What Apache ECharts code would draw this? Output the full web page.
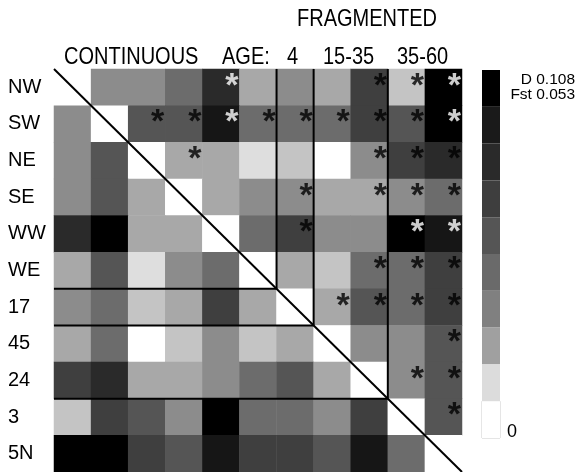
<!DOCTYPE html>
<html>
<head>
<meta charset="utf-8">
<script src="https://cdn.jsdelivr.net/npm/echarts@6/dist/echarts.min.js"></script>
<style>
html, body { margin: 0; padding: 0; background: #fff; }
#chart { width: 577px; height: 472px; }
</style>
</head>
<body>
<div id="chart"></div>
<script>
// populations, top to bottom and left to right
const pops = ["NW", "SW", "NE", "SE", "WW", "WE", "17", "45", "24", "3", "5N"]

// shade level of each cell, 0 = white ... 10 = black (one row per population)
const shadeRows = [
  [0, 4, 4, 5, 8, 3, 4, 3, 7, 2, 10],
  [4, 0, 6, 6, 9, 5, 5, 5, 7, 6, 10],
  [4, 6, 0, 3, 3, 1, 2, 0, 4, 7, 8],
  [4, 6, 3, 0, 3, 4, 4, 3, 3, 4, 5],
  [8, 10, 3, 3, 0, 5, 7, 4, 4, 10, 9],
  [3, 6, 1, 4, 5, 0, 3, 2, 5, 5, 7],
  [4, 5, 2, 3, 7, 3, 0, 3, 6, 5, 7],
  [3, 5, 0, 2, 4, 2, 3, 0, 4, 4, 6],
  [7, 8, 3, 3, 4, 5, 6, 3, 0, 4, 6],
  [2, 7, 6, 4, 10, 5, 5, 4, 7, 0, 6],
  [10, 10, 7, 6, 9, 7, 7, 6, 9, 5, 0]
]

// significant pairs [col, row]
const starsBlack = [
  [8, 0], [9, 0],
  [2, 1], [3, 1], [5, 1], [6, 1], [7, 1], [8, 1], [9, 1],
  [3, 2], [8, 2], [9, 2], [10, 2],
  [6, 3], [8, 3], [9, 3], [10, 3],
  [6, 4],
  [8, 5], [9, 5], [10, 5],
  [7, 6], [8, 6], [9, 6], [10, 6],
  [10, 7],
  [9, 8], [10, 8],
  [10, 9]
]
const starsWhite = [[4, 0], [10, 0], [4, 1], [10, 1], [9, 4], [10, 4]]

// index where a new age group starts
const groupStarts = [6, 7, 9]

const cellGrays = ["#ffffff", "#dedede", "#c4c4c4", "#a8a8a8", "#8c8c8c", "#6c6c6c",
  "#555555", "#3f3f3f", "#2a2a2a", "#161616", "#000000"]
const legendGrays = ["#ffffff", "#dcdcdc", "#a0a0a0", "#808080", "#6a6a6a",
  "#555555", "#3e3e3e", "#2a2a2a", "#1a1a1a", "#000000"]

const FONT = "Liberation Sans, Arial, sans-serif"

const heatData = []
shadeRows.forEach((row, r) => {
  row.forEach((v, c) => heatData.push([c, r, v]))
})

// top-left corner of a cell in pixels
const corner = (api, c, r) => {
  const p = api.coord([c, r])
  const s = api.size([1, 1])
  return [p[0] - Math.abs(s[0]) / 2, p[1] - Math.abs(s[1]) / 2]
}

const starSeries = (data, color) => ({
  type: "scatter",
  data: data,
  symbolSize: 1,
  itemStyle: { color: "rgba(0,0,0,0)" },
  silent: true,
  z: 3,
  label: {
    show: true,
    formatter: "*",
    position: "inside",
    offset: [11, -1],
    fontSize: 34,
    fontWeight: "bold",
    fontFamily: FONT,
    color: color
  }
})

// header text, a bit taller than wide like the original lettering
const topText = (text, x, y) => ({
  type: "text",
  x: x,
  y: y,
  scaleY: 1.18,
  style: { text: text, fontSize: 20, fontFamily: FONT, fill: "#000", textVerticalAlign: "middle" }
})

const chart = echarts.init(document.getElementById("chart"))

chart.setOption({
  animation: false,
  backgroundColor: "#fff",
  grid: { left: 54, top: 69, width: 408, height: 408 },
  xAxis: { type: "category", data: pops, show: false },
  yAxis: {
    type: "category",
    data: pops,
    inverse: true,
    axisLine: { show: false },
    axisTick: { show: false },
    splitLine: { show: false },
    axisLabel: { fontSize: 20, color: "#000", align: "left", margin: 46, fontFamily: FONT }
  },
  visualMap: [
    {
      type: "piecewise",
      show: false,
      seriesIndex: 0,
      dimension: 2,
      pieces: cellGrays.map((g, i) => ({ value: i, color: g }))
    },
    {
      type: "piecewise",
      seriesIndex: 1,
      orient: "vertical",
      left: 482,
      top: 70,
      padding: 0,
      itemWidth: 18,
      itemHeight: 36.8,
      itemGap: 0,
      itemSymbol: "rect",
      showLabel: false,
      selectedMode: false,
      hoverLink: false,
      pieces: legendGrays.map((g, i) => ({ value: i, color: g }))
    }
  ],
  series: [
    {
      type: "heatmap",
      data: heatData,
      silent: true,
      itemStyle: { borderWidth: 0 }
    },
    { type: "heatmap", data: [], silent: true },
    starSeries(starsBlack, "#000"),
    starSeries(starsWhite, "#fff"),
    {
      // group borders
      type: "custom",
      data: groupStarts.map((k) => [k, k]),
      silent: true,
      z: 4,
      renderItem: (params, api) => {
        const k = api.value(0)
        const o = corner(api, 0, 0)
        const e = corner(api, k, k)
        const st = { stroke: "#000", lineWidth: 2 }
        return {
          type: "group",
          children: [
            { type: "line", shape: { x1: e[0], y1: o[1], x2: e[0], y2: e[1] }, style: st },
            { type: "line", shape: { x1: o[0], y1: e[1], x2: e[0], y2: e[1] }, style: st }
          ]
        }
      }
    },
    {
      // diagonal
      type: "custom",
      data: [[0, 0]],
      silent: true,
      z: 5,
      renderItem: (params, api) => {
        const n = pops.length
        const a = corner(api, 0, 0)
        const b = corner(api, n - 1, n - 1)
        const s = api.size([1, 1])
        return {
          type: "line",
          shape: { x1: a[0], y1: a[1], x2: b[0] + Math.abs(s[0]), y2: b[1] + Math.abs(s[1]) },
          style: { stroke: "#000", lineWidth: 2 }
        }
      }
    }
  ],
  graphic: [
    topText("FRAGMENTED", 297, 19),
    topText("CONTINUOUS", 64, 57),
    topText("AGE:", 222, 57),
    topText("4", 287, 57),
    topText("15-35", 323, 57),
    topText("35-60", 397, 57),
    {
      type: "text", x: 575, y: 80,
      style: { text: "D 0.108", fontSize: 15.5, fontFamily: FONT, fill: "#000", textAlign: "right", textVerticalAlign: "middle" }
    },
    {
      type: "text", x: 575, y: 95,
      style: { text: "Fst 0.053", fontSize: 15.5, fontFamily: FONT, fill: "#000", textAlign: "right", textVerticalAlign: "middle" }
    },
    {
      type: "text", x: 507, y: 432,
      style: { text: "0", fontSize: 18, fontFamily: FONT, fill: "#000", textVerticalAlign: "middle" }
    },
    {
      type: "rect", shape: { x: 482, y: 401.2, width: 18, height: 36.8 },
      style: { fill: "none", stroke: "#cccccc", lineWidth: 1 }
    }
  ]
})

window.addEventListener("resize", () => chart.resize())
</script>
</body>
</html>
